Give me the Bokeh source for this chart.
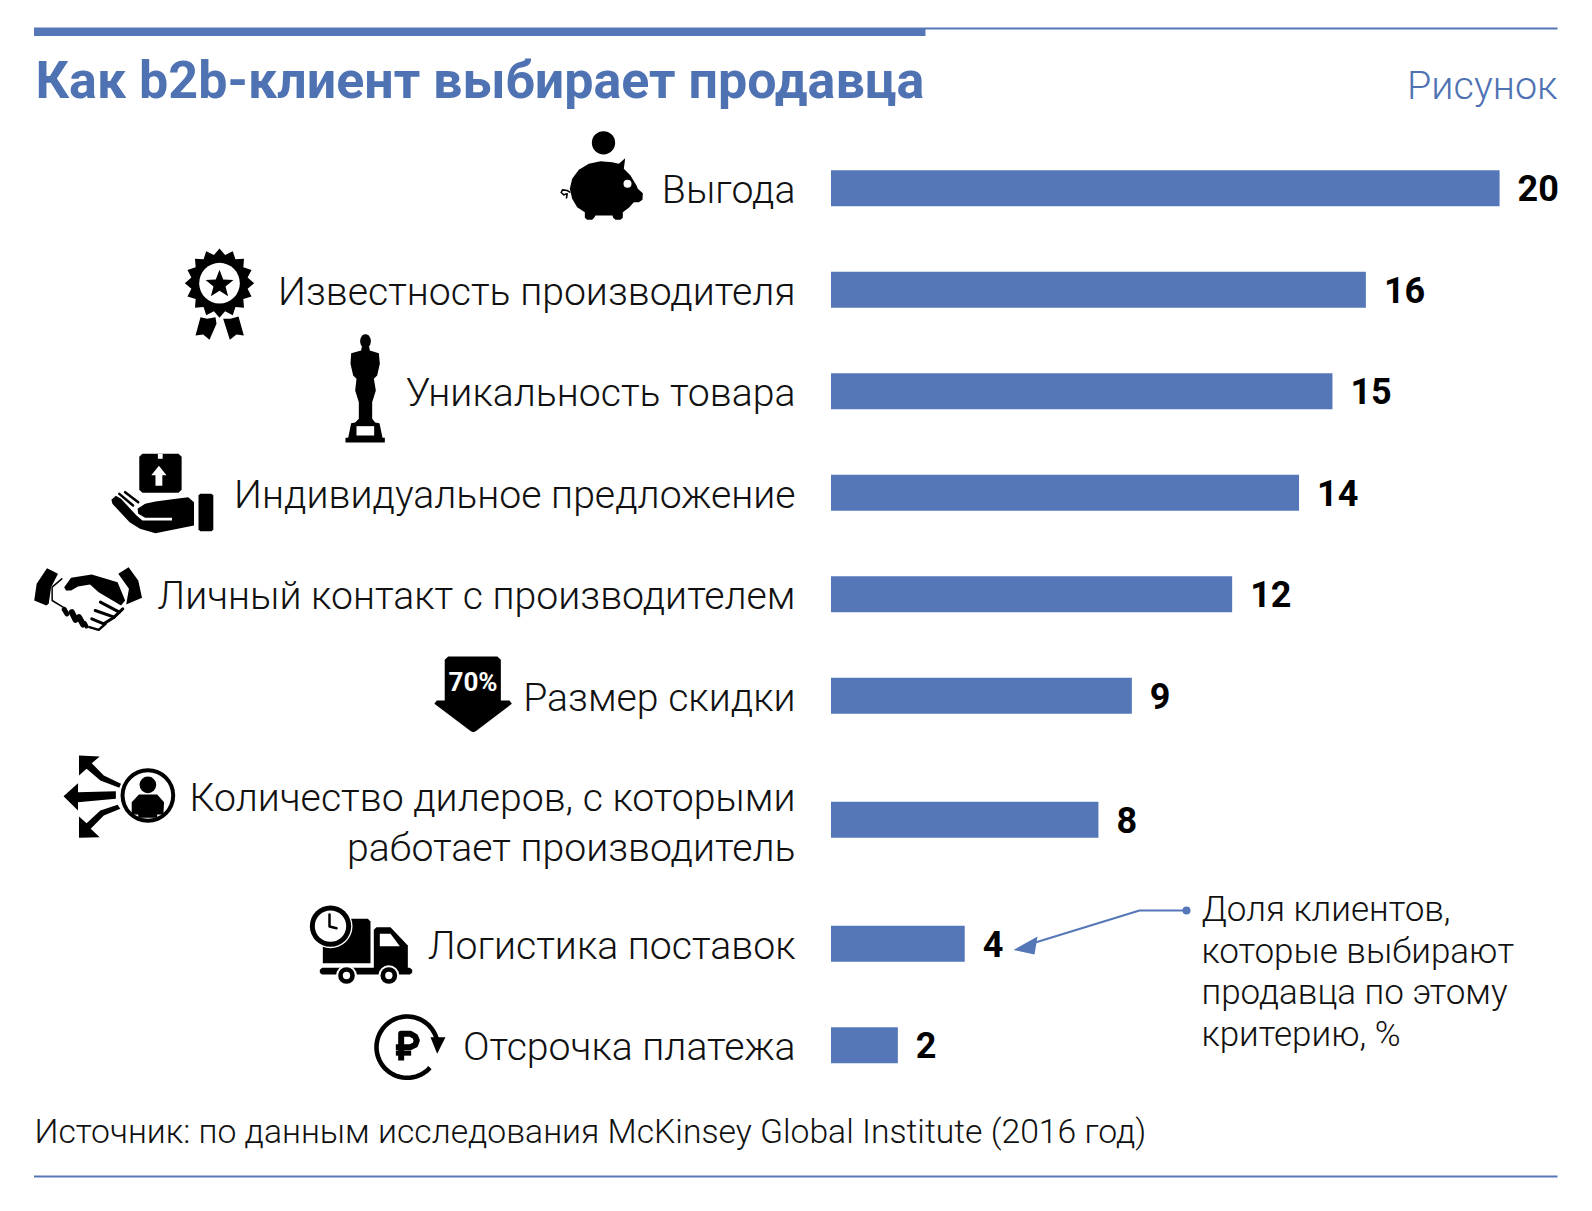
import math
from bokeh.plotting import figure
from bokeh.models import Range1d
from bokeh.core.properties import value
from bokeh.embed import file_html
from bokeh.resources import INLINE

categories = [["Выгода"], ["Известность производителя"], ["Уникальность товара"],
              ["Индивидуальное предложение"], ["Личный контакт с производителем"], ["Размер скидки"],
              ["Количество дилеров, с которыми", "работает производитель"],
              ["Логистика поставок"], ["Отсрочка платежа"]]
shares = [20, 16, 15, 14, 12, 9, 8, 4, 2]
title_text = "Как b2b-клиент выбирает продавца"
figure_tag = "Рисунок"
source_text = "Источник: по данным исследования McKinsey Global Institute (2016 год)"
note_lines = ["Доля клиентов,", "которые выбирают", "продавца по этому", "критерию, %"]

BLUE = "#5577B8"
TITLE_BLUE = "#4F72B3"
LIGHT = "Roboto Light"
W, H = 1576, 1195
X0, PX_PER = 830.5, 33.43

p = figure(width=W, height=H, output_backend="svg", toolbar_location=None,
           x_range=Range1d(0, W), y_range=Range1d(H, 0),
           x_axis_type=None, y_axis_type=None, min_border=0, outline_line_color=None)
p.grid.visible = False
p.extra_x_ranges["share"] = Range1d(-X0 / PX_PER, (W - X0) / PX_PER)

SH = dict(x_range_name="share")

# row centres: a regular step, with extra room around the two-line category
ys = []
y = 187.7
for i, c in enumerate(categories):
    if i > 0:
        y += 101.5
        if len(c) > 1 or len(categories[i - 1]) > 1:
            y += 22.5
    ys.append(y)

p.hbar(y=ys, left=0, right=shares, height=36, color=BLUE, line_color=None, **SH)
p.text(x=shares, y=ys, text=[str(v) for v in shares], x_offset=18, text_baseline="middle",
       text_font=value("Roboto"), text_font_style="bold", text_font_size="36px", text_color="black", **SH)

for c, v in zip(categories, ys):
    n = len(c)
    for j, line in enumerate(c):
        yy = v + (j - (n - 1) / 2) * 50 + (2 if n == 1 else 3)
        p.text(x=[795], y=[yy], text=[line], text_align="right", text_baseline="middle",
               text_font=value(LIGHT), text_font_size="39.2px", text_color="#111111")

# header / footer
p.line([33.5, 1557], [28, 28], line_color=BLUE, line_width=2)
p.line([33.5, 925], [31.5, 31.5], line_color=BLUE, line_width=8)
p.line([33.5, 1557], [1176, 1176], line_color=BLUE, line_width=2)
p.text(x=[35], y=[79.5], text=[title_text], text_baseline="middle", text_font=value("Roboto"),
       text_font_style="bold", text_font_size="52px", text_color=TITLE_BLUE)
p.text(x=[1557], y=[85], text=[figure_tag], text_align="right", text_baseline="middle",
       text_font=value(LIGHT), text_font_size="39.5px", text_color=TITLE_BLUE)
p.text(x=[34], y=[1131], text=[source_text], text_baseline="middle",
       text_font=value(LIGHT), text_font_size="33.7px", text_color="#111111")

# note and its leader
for i, line in enumerate(note_lines):
    p.text(x=[1201], y=[909 + i * 41.6], text=[line], text_baseline="middle",
           text_font=value(LIGHT), text_font_size="35px", text_color="#111111")
p.line([1186, 1139, 1025], [910, 910, 945], line_color=BLUE, line_width=2)
p.scatter([1186], [910], size=8, color=BLUE, line_color=None)
p.patch([1013, 1037, 1034], [949.5, 936, 954], color=BLUE, line_color=None)

SX = 3.0


def Z(ox, oy, pts):
    return [ox + a / SX for a, b in pts], [oy + b / 3 for a, b in pts]


def poly(ox, oy, pts, color="black"):
    xs, yv = Z(ox, oy, pts)
    p.patch(xs, yv, color=color, line_color=None)


def stroke(ox, oy, pts, w, color="black", cap="round"):
    xs, yv = Z(ox, oy, pts)
    p.line(xs, yv, line_color=color, line_width=w, line_cap=cap, line_join="round")


def disc(ox, oy, cx, cy, r, color="black"):
    p.circle([ox + cx / SX], [oy + cy / 3], radius=r / 3, color=color, line_color=None)


def ell(cx, cy, rx, ry, n=48):
    return [(cx + rx * math.cos(2 * math.pi * i / n), cy + ry * math.sin(2 * math.pi * i / n)) for i in range(n)]


def arc(cx, cy, r, a0, a1, n=60):
    return [(cx + r * math.cos(math.radians(a0 + (a1 - a0) * i / n)),
             cy + r * math.sin(math.radians(a0 + (a1 - a0) * i / n))) for i in range(n + 1)]


def star(cx, cy, r0, r1, n, rot=-90):
    out = []
    for i in range(2 * n):
        r = r0 if i % 2 == 0 else r1
        a = math.radians(rot + 180 * i / n)
        out.append((cx + r * math.cos(a), cy + r * math.sin(a)))
    return out


# piggy bank
ox, oy = 540, 110
disc(ox, oy, 189, 97, 35)
poly(ox, oy, [(88, 235), (95, 205), (115, 178), (145, 160), (180, 152), (215, 155), (235, 160), (254, 143), (250, 175),
              (270, 195), (288, 225), (292, 235), (307, 248), (306, 268), (295, 275), (280, 275), (265, 292),
              (247, 305), (247, 322), (240, 328), (225, 328), (218, 322), (216, 315), (165, 315), (161, 322),
              (155, 328), (140, 328), (133, 322), (133, 305), (110, 290), (95, 265)])
disc(ox, oy, 261, 220, 12, "white")
stroke(ox, oy, [(88, 245), (80, 240), (66, 238), (62, 246), (70, 253), (80, 250), (78, 262)], 1.6)

# rosette
ox, oy = 0, 110
poly(ox, oy, star(657, 518, 104, 86, 16))
disc(ox, oy, 657, 518, 61, "white")
poly(ox, oy, star(657, 522, 44, 19, 5))
poly(ox, oy, [(600, 620), (620, 625), (645, 620), (648, 640), (627, 688), (608, 672), (585, 675)])
poly(ox, oy, [(668, 625), (690, 625), (714, 618), (730, 675), (708, 672), (688, 688)])

# statuette
poly(ox, oy, ell(1095, 692, 16, 21))
poly(ox, oy, [(1084, 708), (1106, 708), (1108, 720), (1135, 728), (1138, 760), (1130, 795), (1120, 805), (1126, 840),
              (1115, 875), (1115, 925), (1124, 936), (1137, 938), (1146, 982), (1153, 982), (1153, 996), (1035, 996),
              (1035, 982), (1043, 982), (1052, 938), (1064, 936), (1075, 925), (1075, 875), (1064, 840),
              (1068, 805), (1058, 795), (1050, 760), (1052, 728), (1082, 720)])
poly(ox, oy, [(1068, 947), (1121, 947), (1121, 975), (1068, 975)], "white")

# hand with parcel (this crop came back 2.904x wide, 3x tall)
SX = 2.904
ox, oy = 0, 440
poly(ox, oy, [(412, 40), (517, 40), (526, 49), (526, 148), (517, 157), (412, 157), (403, 148), (403, 49)])
poly(ox, oy, [(457, 40), (471, 40), (471, 55), (457, 55)], "white")
poly(ox, oy, [(460, 76), (482, 104), (470, 104), (470, 136), (450, 136), (450, 104), (438, 104)], "white")
poly(ox, oy, [(575, 165), (580, 160), (613, 160), (618, 165), (618, 267), (613, 272), (580, 272), (575, 267)])
poly(ox, oy, [(398, 205), (420, 190), (450, 183), (510, 175), (545, 170), (562, 185), (562, 255), (500, 268), (450, 278),
              (405, 265), (375, 245), (325, 190), (322, 178), (335, 166), (350, 175), (395, 225), (412, 240), (498, 240),
              (498, 232), (420, 232), (400, 220)])
stroke(ox, oy, [(345, 160), (385, 195)], 2.5)
stroke(ox, oy, [(362, 155), (400, 185)], 2.5)

# handshake
poly(ox, oy, [(98, 480), (105, 430), (135, 383), (167, 400), (147, 440), (140, 490), (133, 495)])
poly(ox, oy, [(342, 400), (372, 380), (400, 420), (411, 472), (365, 492), (373, 445)])
poly(ox, oy, [(185, 440), (205, 412), (265, 402), (340, 425), (362, 480), (350, 495), (285, 455), (260, 432),
              (225, 438), (205, 450), (190, 450)])
stroke(ox, oy, [(178, 415), (150, 440), (150, 480), (190, 505)], 1.5)
stroke(ox, oy, [(290, 485), (345, 515)], 3)
stroke(ox, oy, [(275, 510), (330, 530)], 3)
stroke(ox, oy, [(265, 535), (300, 550), (330, 530), (355, 505)], 3)
stroke(ox, oy, [(258, 560), (285, 568), (305, 550)], 2.5)
stroke(ox, oy, [(185, 507), (193, 520)], 5)
stroke(ox, oy, [(207, 515), (218, 538)], 6)
stroke(ox, oy, [(228, 530), (240, 552)], 6)
stroke(ox, oy, [(245, 548), (250, 558)], 4)

# discount arrow
poly(ox, oy, [(1300, 648), (1443, 648), (1453, 658), (1453, 780), (1478, 780), (1485, 790), (1380, 872), (1373, 875),
              (1366, 872), (1260, 790), (1267, 780), (1290, 780), (1290, 658)])
p.text(x=[472.5], y=[681], text=["70%"], text_align="center", text_baseline="middle", text_font=value("Roboto"),
       text_font_style="bold", text_font_size="26px", text_color="white")

# dealers
disc(ox, oy, 428, 1065, 82)
disc(ox, oy, 428, 1065, 70, "white")
disc(ox, oy, 428, 1033, 25)
poly(ox, oy, [(402, 1062), (455, 1062), (475, 1085), (473, 1122), (455, 1122), (455, 1132), (400, 1132), (400, 1122),
              (381, 1122), (381, 1085)])
poly(ox, oy, [(183, 1067), (225, 1028), (225, 1055), (335, 1052), (335, 1075), (225, 1085), (225, 1110)])
poly(ox, oy, [(228, 945), (288, 948), (265, 968), (300, 1005), (350, 1030), (345, 1042), (290, 1020), (250, 985),
              (228, 1005)])
poly(ox, oy, [(228, 1192), (288, 1190), (262, 1165), (300, 1125), (348, 1105), (340, 1093), (290, 1110), (250, 1148),
              (228, 1128)])

# truck with clock
SX = 3.0
ox, oy = 290, 880
poly(ox, oy, [(97, 115), (232, 115), (240, 123), (240, 248), (97, 248)])
poly(ox, oy, [(250, 148), (258, 140), (300, 140), (352, 195), (352, 264), (250, 264)])
poly(ox, oy, [(268, 160), (300, 160), (328, 197), (268, 197)], "white")
poly(ox, oy, [(95, 262), (358, 262), (365, 268), (365, 277), (358, 282), (95, 282), (88, 277), (88, 268)])
disc(ox, oy, 120, 137, 66, "white")
disc(ox, oy, 120, 137, 62)
disc(ox, oy, 120, 137, 47, "white")
stroke(ox, oy, [(117, 102), (117, 138), (138, 143)], 2.5)
for wx in (168, 295):
    disc(ox, oy, wx, 285, 31, "white")
    disc(ox, oy, wx, 285, 25)
    disc(ox, oy, wx, 285, 11, "white")

# rouble with arrow
stroke(ox, oy, arc(350, 500, 92, -12, -318), 4.6, cap="butt")
poly(ox, oy, [(420, 470), (465, 470), (440, 520)])
stroke(ox, oy, [(332, 540), (332, 460), (360, 460), (374, 468), (379, 480), (374, 493), (360, 500), (316, 500)], 6, cap="butt")
stroke(ox, oy, [(316, 518), (362, 518)], 5, cap="butt")

open("out.html", "w").write(file_html(p, INLINE))
